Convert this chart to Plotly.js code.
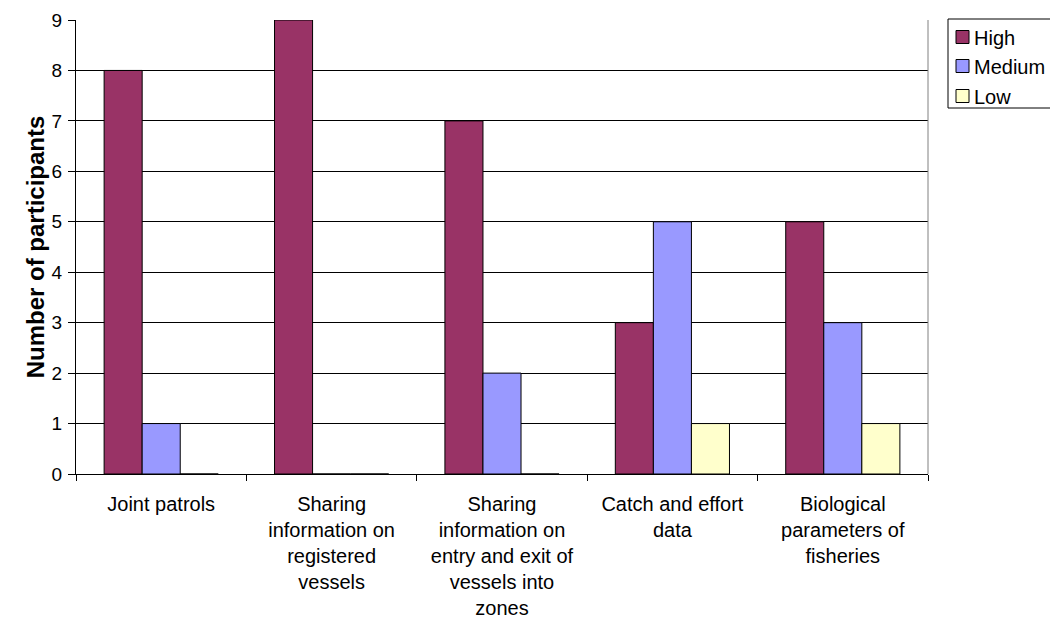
<!DOCTYPE html>
<html>
<head>
<meta charset="utf-8">
<script src="https://cdn.plot.ly/plotly-3.0.1.min.js"></script>
<style>
  html, body { margin: 0; padding: 0; background: #ffffff; }
  #chart { width: 1050px; height: 624px; }
</style>
</head>
<body>
<div id="chart"></div>
<script>
// Survey categories (line breaks follow the wrapped axis labels)
const categories = [
  "Joint patrols",
  "Sharing<br>information on<br>registered<br>vessels",
  "Sharing<br>information on<br>entry and exit of<br>vessels into<br>zones",
  "Catch and effort<br>data",
  "Biological<br>parameters of<br>fisheries"
];

// Number of participants rating each priority level
const highValues = [8, 9, 7, 3, 5];
const mediumValues = [1, 0, 2, 5, 3];
const lowValues = [0, 0, 0, 1, 1];

const seriesNames = ["High", "Medium", "Low"];
const seriesColors = ["#993366", "#9999FF", "#FFFFCC"];
const seriesValues = [highValues, mediumValues, lowValues];

const font = "Liberation Sans, Arial, sans-serif";
const W = 1050, H = 624;
const M = { l: 76, r: 122, t: 20, b: 150 };

// pixel position -> paper fraction, for the side key
const px = x => (x - M.l) / (W - M.l - M.r);
const py = y => (H - M.b - y) / (H - M.t - M.b);

const traces = seriesValues.map((vals, i) => ({
  type: "bar",
  name: seriesNames[i],
  x: categories,
  y: vals,
  marker: { color: seriesColors[i], line: { color: "#000000", width: 1 } },
  hoverinfo: "x+y+name"
}));

// Boxed key on the right: frame, colour swatches and series names
const keyShapes = [{
  type: "rect", xref: "paper", yref: "paper",
  x0: px(948), x1: px(1070), y0: py(108), y1: py(19),
  fillcolor: "#ffffff", line: { color: "#000000", width: 1 }, layer: "above"
}];
const keyAnnotations = [];
const keyRowY = [37, 66, 96];
seriesNames.forEach((name, i) => {
  const cy = keyRowY[i];
  keyShapes.push({
    type: "rect", xref: "paper", yref: "paper",
    x0: px(956), x1: px(969), y0: py(cy + 6.5), y1: py(cy - 6.5),
    fillcolor: seriesColors[i], line: { color: "#000000", width: 1 }, layer: "above"
  });
  keyAnnotations.push({
    xref: "paper", yref: "paper", x: px(972), y: py(cy + 1),
    xanchor: "left", yanchor: "middle", showarrow: false,
    text: name, font: { family: font, size: 20, color: "#000000" }
  });
});

const layout = {
  width: W,
  height: H,
  margin: { l: M.l, r: M.r, t: M.t, b: M.b, autoexpand: false },
  paper_bgcolor: "#ffffff",
  plot_bgcolor: "#ffffff",
  showlegend: false,
  barmode: "group",
  bargap: 0.33,
  bargroupgap: 0,
  font: { family: font, size: 19, color: "#000000" },
  xaxis: {
    type: "category",
    showline: true,
    linecolor: "#000000",
    linewidth: 1,
    ticks: "outside",
    tickson: "boundaries",
    ticklen: 6,
    tickcolor: "#000000",
    showgrid: false,
    tickfont: { family: font, size: 20, color: "#000000" },
    tickangle: 0,
    ticklabelstandoff: 12
  },
  yaxis: {
    range: [0, 9],
    dtick: 1,
    showline: true,
    linecolor: "#000000",
    linewidth: 1,
    ticks: "outside",
    ticklen: 7,
    tickcolor: "#000000",
    showgrid: true,
    gridcolor: "#000000",
    gridwidth: 1,
    zeroline: false,
    tickfont: { family: font, size: 19, color: "#000000" },
    ticklabelstandoff: 2,
    title: {
      text: "<b>Number of participants</b>",
      font: { family: font, size: 24, color: "#000000" },
      standoff: 0
    }
  },
  shapes: [
    {
      type: "line", xref: "paper", yref: "paper",
      x0: 1, x1: 1, y0: 0, y1: 1,
      line: { color: "#808080", width: 1 }
    }
  ].concat(keyShapes),
  annotations: keyAnnotations
};

Plotly.newPlot("chart", traces, layout, { displayModeBar: false, staticPlot: true });
</script>
</body>
</html>
